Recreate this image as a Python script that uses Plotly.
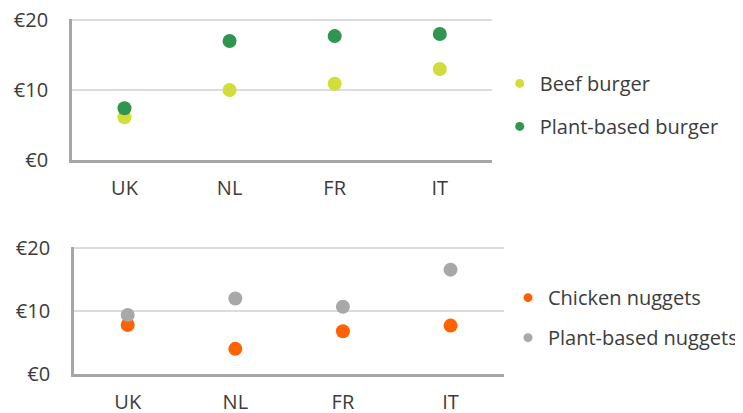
import plotly.graph_objects as go

countries = ["UK", "NL", "FR", "IT"]
beef_burger = [6.1, 10.0, 10.9, 13.0]
plant_burger = [7.4, 17.0, 17.7, 18.0]
chicken_nuggets = [7.8, 4.0, 6.8, 7.7]
plant_nuggets = [9.4, 12.0, 10.7, 16.6]
yticks = [0, 10, 20]
yticklabels = ["€0", "€10", "€20"]

C_BEEF = "#d2dc3a"
C_PLANT_B = "#2f9551"
C_CHICK = "#ff6200"
C_PLANT_N = "#a8a8a8"
FONT = "Open Sans"
TXT = "#3c3c3c"
FS = 20

fig = go.Figure()

def add(name, vals, color, xa, ya, legend, group):
    fig.add_trace(go.Scatter(x=countries, y=vals, mode="markers", name=name,
                             marker=dict(color=color, size=14), xaxis=xa, yaxis=ya,
                             showlegend=False, cliponaxis=False))
    fig.add_trace(go.Scatter(x=[None], y=[None], mode="markers", name=name,
                             marker=dict(color=color, size=9), xaxis=xa, yaxis=ya,
                             legend=legend, legendgroup=group, showlegend=True))

add("Beef burger", beef_burger, C_BEEF, "x", "y", "legend", "a")
add("Plant-based burger", plant_burger, C_PLANT_B, "x", "y", "legend", "b")
add("Chicken nuggets", chicken_nuggets, C_CHICK, "x2", "y2", "legend2", "c")
add("Plant-based nuggets", plant_nuggets, C_PLANT_N, "x2", "y2", "legend2", "d")

axis_common_y = dict(range=[0, 20.2], tickvals=yticks, ticktext=yticklabels,
                     showgrid=True, gridcolor="#dcdcdc", gridwidth=1.5,
                     showline=True, linecolor="#a6a6a6", linewidth=2.5,
                     zeroline=False, ticks="", ticklabelstandoff=17, automargin=False,
                     ticklabeloverflow="allow",
                     tickfont=dict(family=FONT, size=FS, color=TXT), fixedrange=True)
axis_common_x = dict(showgrid=False, showline=True, linecolor="#a6a6a6", linewidth=2.5,
                     ticks="", ticklabelstandoff=8, range=[-0.5, 3.5], automargin=False,
                     ticklabeloverflow="allow",
                     tickfont=dict(family=FONT, size=FS, color=TXT), fixedrange=True)

fig.update_layout(
    template="none",
    width=735, height=405,
    margin=dict(l=0, r=0, t=0, b=0),
    plot_bgcolor="white", paper_bgcolor="white",
    font=dict(family=FONT, size=FS, color=TXT),
    xaxis=dict(domain=[0.0871, 0.6599], anchor="y", **axis_common_x),
    yaxis=dict(domain=[0.6247, 0.9738], anchor="x", **axis_common_y),
    xaxis2=dict(domain=[0.0898, 0.6762], anchor="y2", **axis_common_x),
    yaxis2=dict(domain=[0.0963, 0.4099], anchor="x2", **axis_common_y),
    legend=dict(x=0.669, y=0.862, xanchor="left", yanchor="top",
                tracegroupgap=14, font=dict(family=FONT, size=FS, color=TXT),
                bgcolor="rgba(0,0,0,0)"),
    legend2=dict(x=0.6816, y=0.333, xanchor="left", yanchor="top",
                 tracegroupgap=11, font=dict(family=FONT, size=FS, color=TXT),
                 bgcolor="rgba(0,0,0,0)"),
)

fig.write_html("out.html")
